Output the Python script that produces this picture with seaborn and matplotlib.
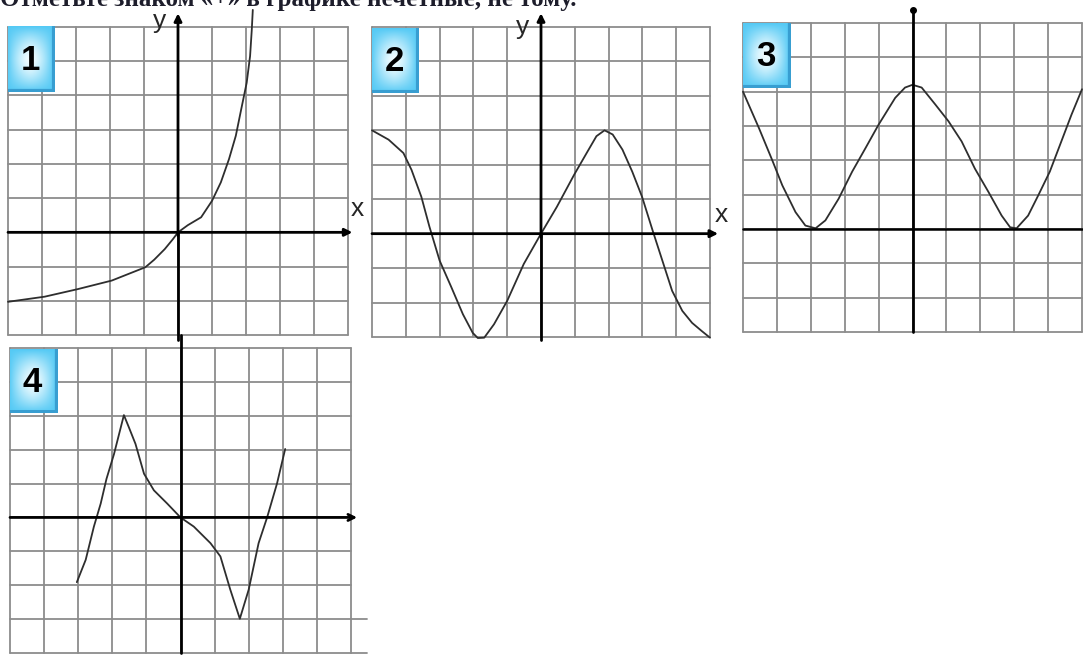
import numpy as np
import seaborn as sns
import matplotlib.pyplot as plt

W, H = 1083, 657

# кривые (единица = одна клетка)
g1_x = [-5.0, -3.92, -2.95, -1.95, -0.96, -0.7, -0.39, -0.15, 0.0, 0.29, 0.68, 1.0,
        1.26, 1.5, 1.7, 1.86, 2.02, 2.12, 2.17, 2.2]
g1_y = [-2.03, -1.88, -1.66, -1.41, -1.02, -0.8, -0.49, -0.2, 0.0, 0.21, 0.44, 0.92,
        1.46, 2.14, 2.82, 3.6, 4.37, 5.15, 5.92, 6.5]

g2_x = [-5.0, -4.51, -4.07, -3.83, -3.54, -3.3, -3.0, -2.65, -2.31, -2.02, -1.87, -1.68,
        -1.39, -1.0, -0.51, 0.0, 0.47, 0.98, 1.35, 1.64, 1.88, 2.12, 2.41, 2.7, 2.99,
        3.3, 3.59, 3.88, 4.18, 4.47, 4.76, 5.0]
g2_y = [3.0, 2.73, 2.34, 1.85, 1.07, 0.2, -0.78, -1.56, -2.34, -2.88, -3.03, -3.02,
        -2.63, -1.95, -0.88, 0.0, 0.78, 1.71, 2.34, 2.83, 3.0, 2.88, 2.44, 1.8, 1.07,
        0.1, -0.78, -1.66, -2.24, -2.59, -2.83, -3.02]

g3_x = [-5.0, -4.53, -4.14, -3.84, -3.45, -3.16, -2.86, -2.57, -2.18, -1.78, -1.39,
        -1.0, -0.51, -0.22, 0.0, 0.27, 0.67, 1.06, 1.45, 1.84, 2.24, 2.63, 2.88, 3.07,
        3.41, 3.71, 4.05, 4.39, 4.69, 5.0]
g3_y = [4.0, 2.94, 2.01, 1.27, 0.49, 0.1, 0.02, 0.25, 0.88, 1.67, 2.35,
        3.04, 3.82, 4.12, 4.2, 4.12, 3.63, 3.14, 2.55, 1.76, 1.08, 0.39, 0.05, 0.02,
        0.39, 0.98, 1.67, 2.55, 3.33, 4.07]

g4_x = [-3.04, -2.78, -2.54, -2.34, -2.17, -1.95, -1.66, -1.51, -1.32, -1.07, -0.78,
        -0.39, 0.0, 0.39, 0.88, 1.17, 1.46, 1.74, 2.0, 2.29, 2.54, 2.83, 3.07]
g4_y = [-1.91, -1.25, -0.27, 0.41, 1.14, 1.87, 3.02, 2.65, 2.17, 1.29, 0.8,
        0.41, 0.0, -0.27, -0.76, -1.15, -2.13, -2.99, -2.13, -0.76, 0.0, 1.0, 2.02]

panel_labels = ['1', '2', '3', '4']
title_text = 'Отметьте знаком «+» в графике нечётные, не тому.'

GRID = '#8c8c8c'
CURVE = '#2e2e2e'

sns.set_style('white')
plt.rcParams['font.family'] = ['Liberation Sans', 'DejaVu Sans']

fig = plt.figure(figsize=(W / 100, H / 100), dpi=100)


def px_rect(x0, y0, x1, y1):
    return [x0 / W, 1 - y1 / H, (x1 - x0) / W, (y1 - y0) / H]


def draw_panel(rect, ymin, ymax, xs, ys):
    ax = fig.add_axes(px_rect(*rect))
    ax.set_xlim(-5, 5)
    ax.set_ylim(ymin, ymax)
    ax.set_axis_off()
    for v in range(-5, 6):
        ax.axvline(v, color=GRID, lw=1.3, zorder=1, clip_on=False)
    for h in range(ymin, ymax + 1):
        ax.axhline(h, color=GRID, lw=1.3, zorder=1, clip_on=False)
    sns.lineplot(x=xs, y=ys, ax=ax, color=CURVE, lw=1.3, sort=False,
                 estimator=None, zorder=4, clip_on=False)
    return ax


def arrow(ax, p0, p1, style='-|>'):
    ax.annotate('', xy=p1, xytext=p0, annotation_clip=False,
                arrowprops=dict(arrowstyle=style, color='black', lw=2,
                                mutation_scale=11, shrinkA=0, shrinkB=0), zorder=5)


def label_box(rect, txt):
    bx = fig.add_axes(px_rect(*rect))
    bx.set_axis_off()
    h, w = 64, 46
    u = np.linspace(0, 1, w)[None, :]
    v = np.linspace(0, 1, h)[:, None]
    t = (1 - np.abs(2 * u - 0.95) ** 1.6) * (1 - np.abs(2 * v - 1.0) ** 1.6)
    t = np.clip(t, 0, 1)[..., None]
    edge = np.array([0.33, 0.79, 0.96])
    mid = np.array([0.95, 0.99, 1.0])
    img = edge * (1 - t) + mid * t
    img[:, -3:] = [0.22, 0.62, 0.82]
    img[-3:, :] = [0.22, 0.62, 0.82]
    bx.imshow(img, aspect='auto', extent=(0, 1, 0, 1), interpolation='bilinear')
    bx.set_xlim(0, 1)
    bx.set_ylim(0, 1)
    bx.text(0.47, 0.48, txt, ha='center', va='center', fontsize=25,
            fontweight='bold', color='black')


# 1
ax1 = draw_panel((8, 27, 348, 335), -3, 6, g1_x, g1_y)
ax1.plot([0, 0], [-3.15, 0], color='black', lw=2, clip_on=False, zorder=5)
arrow(ax1, (0, -0.1), (0, 6.4))
arrow(ax1, (-5, 0), (5.13, 0))
fig.text(160 / W, 1 - 28 / H, 'y', ha='center', va='baseline', fontsize=19)
fig.text(357 / W, 1 - 216 / H, 'x', ha='center', va='baseline', fontsize=19)

# 2
ax2 = draw_panel((372, 27, 710, 337), -3, 6, g2_x, g2_y)
ax2.plot([0, 0], [-3.1, 0], color='black', lw=2, clip_on=False, zorder=5)
arrow(ax2, (0, -0.1), (0, 6.4))
arrow(ax2, (-5, 0), (5.24, 0))
fig.text(523 / W, 1 - 34 / H, 'y', ha='center', va='baseline', fontsize=19)
fig.text(721 / W, 1 - 222 / H, 'x', ha='center', va='baseline', fontsize=19)

# 3
ax3 = draw_panel((743, 23, 1082, 332), -3, 6, g3_x, g3_y)
ax3.plot([0, 0], [-3, 6.38], color='black', lw=2, clip_on=False, zorder=5)
ax3.plot([0], [6.38], marker='o', ms=4, color='black', clip_on=False, zorder=5)
ax3.plot([-5, 5], [0, 0], color='black', lw=1.8, clip_on=False, zorder=5)

# 4
ax4 = draw_panel((10, 348, 351, 653), -4, 5, g4_x, g4_y)
ax4.plot([0, 0], [-4, 5.38], color='black', lw=2, clip_on=False, zorder=5)
arrow(ax4, (-5, 0), (5.18, 0), style='->')
ax4.plot([5, 5.47], [-3, -3], color=GRID, lw=1.3, clip_on=False)
ax4.plot([5, 5.47], [-4, -4], color=GRID, lw=1.3, clip_on=False)

label_box((8, 26, 55, 92), panel_labels[0])
label_box((372, 28, 419, 93), panel_labels[1])
label_box((743, 23, 791, 88), panel_labels[2])
label_box((10, 349, 57, 413), panel_labels[3])

# заголовок срезан сверху, как на исходной картинке
fig.text(0.0, 1 - 6 / H, title_text, ha='left', va='baseline', fontsize=18,
         fontweight='bold', color='#1d1d2b', family=['Liberation Serif', 'DejaVu Serif'])

fig.savefig('out.png', dpi=100)
